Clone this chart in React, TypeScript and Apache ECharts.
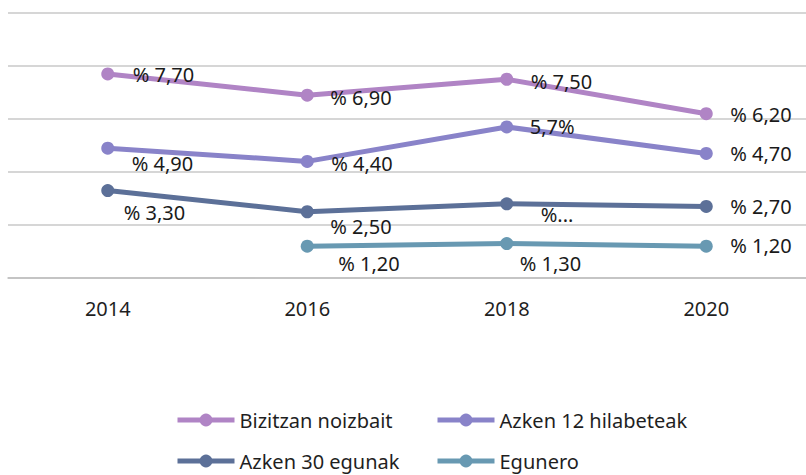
import React, { useEffect, useRef } from "react";
import * as echarts from "echarts";

const years = ["2014", "2016", "2018", "2020"];
const seriesNames = ["Bizitzan noizbait", "Azken 12 hilabeteak", "Azken 30 egunak", "Egunero"];
const bizitzan = [7.7, 6.9, 7.5, 6.2];
const azken12 = [4.9, 4.4, 5.7, 4.7];
const azken30 = [3.3, 2.5, 2.8, 2.7];
const egunero: (number | null)[] = [null, 1.2, 1.3, 1.2];
const bizitzanLabels = ["% 7,70", "% 6,90", "% 7,50", "% 6,20"];
const azken12Labels = ["% 4,90", "% 4,40", "5,7%", "% 4,70"];
const azken30Labels = ["% 3,30", "% 2,50", "%...", "% 2,70"];
const eguneroLabels = ["", "% 1,20", "% 1,30", "% 1,20"];

const colors = ["#b084c5", "#8983c9", "#5c7098", "#6899b2"];
const FONT = "'Noto Sans', 'Open Sans', sans-serif";

// label offsets [left of label relative to point x, center dy]
const offsets = [
  [[25, 1], [23, 2], [24, 2], [24, 1]],
  [[24, 15], [24, 2], [23, 0], [24, 0]],
  [[16, 22], [23, 15], [34, 11], [24, 0]],
  [[0, 0], [31, 17], [13, 20], [24, -1]],
];

export default function App() {
  const ref = useRef<HTMLDivElement>(null);
  useEffect(() => {
    if (!ref.current) return;
    const chart = echarts.init(ref.current, null, { renderer: "svg" });
    const values = [bizitzan, azken12, azken30, egunero];
    const labels = [bizitzanLabels, azken12Labels, azken30Labels, eguneroLabels];
    const SYM = 13;
    const series = seriesNames.map((name, si) => ({
      name,
      type: "line",
      data: values[si].map((v, i) => ({
        value: v,
        label: {
          show: v !== null,
          position: "right",
          distance: 0,
          offset: [offsets[si][i][0] - SYM / 2, offsets[si][i][1]],
          formatter: () => labels[si][i],
        },
      })),
      symbol: "circle",
      symbolSize: SYM,
      showSymbol: true,
      connectNulls: false,
      lineStyle: { width: 5, color: colors[si] },
      itemStyle: { color: colors[si] },
      label: {
        color: "#1a1a1a",
        fontSize: 20,
        fontFamily: FONT,
      },
      emphasis: { disabled: true },
      z: 10 - si,
    }));
    const legendPos = [
      { left: 175, top: 408 },
      { left: 435, top: 408 },
      { left: 175, top: 449 },
      { left: 435, top: 449 },
    ];
    chart.setOption({
      animation: false,
      color: colors,
      grid: { left: 8, top: 13, width: 802, height: 265, containLabel: false },
      xAxis: {
        type: "category",
        data: years,
        boundaryGap: true,
        axisLine: { show: true, lineStyle: { color: "#bfbfbf", width: 1.5 } },
        axisTick: { show: false },
        axisLabel: { color: "#1f1f1f", fontSize: 20, fontFamily: FONT, margin: 20 },
        splitLine: { show: false },
      },
      yAxis: {
        type: "value",
        min: 0,
        max: 10,
        interval: 2,
        axisLabel: { show: false },
        axisLine: { show: false },
        axisTick: { show: false },
        splitLine: { show: true, lineStyle: { color: "#c9c9c9", width: 1.5 } },
      },
      legend: seriesNames.map((n, i) => ({
        data: [n],
        left: legendPos[i].left,
        top: legendPos[i].top,
        orient: "horizontal",
        padding: 0,
        itemWidth: 57,
        itemHeight: 16,
        selectedMode: false,
        lineStyle: { width: 5 },
        textStyle: { color: "#1f1f1f", fontSize: 20, fontFamily: FONT, lineHeight: 24 },
      })),
      series,
    });
    return () => chart.dispose();
  }, []);
  return <div ref={ref} style={{ width: 806, height: 475, position: "absolute", left: 0, top: 0 }} />;
}
